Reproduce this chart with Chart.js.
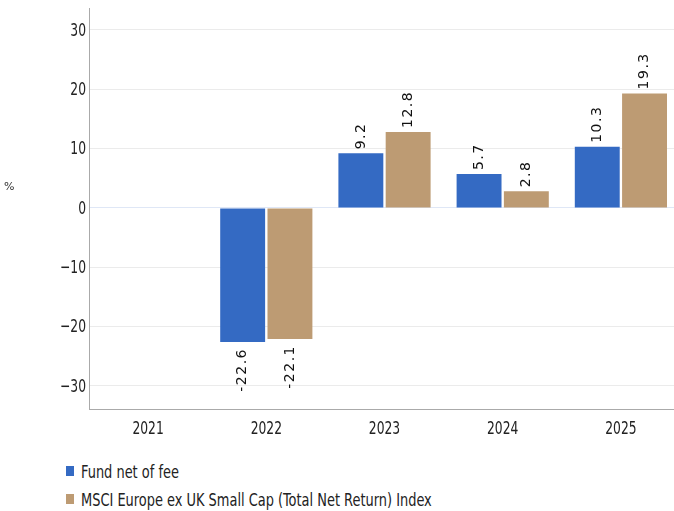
<!DOCTYPE html>
<html>
<head>
<meta charset="utf-8">
<script src="https://cdn.jsdelivr.net/npm/chart.js@4"></script>
<style>
  html, body { margin: 0; padding: 0; background: #fff; overflow: hidden; width: 674px; height: 511px; }
  #wrap { position: absolute; left: 0; top: 0; width: 690px; height: 445px; }
  #legend { position: absolute; left: 66px; top: 457px; font-family: "DejaVu Sans Condensed", "DejaVu Sans", sans-serif; font-stretch: condensed; font-size: 18px; color: #222; }
  #legend div { display: flex; align-items: center; height: 28px; white-space: nowrap; }
  #legend span.box { display: inline-block; width: 8px; height: 10px; margin-right: 7px; flex: none; }
  #legend span.txt { display: inline-block; transform: scaleX(0.8); transform-origin: left center; }
</style>
</head>
<body>
<div id="wrap"><canvas id="c"></canvas></div>
<div id="legend"></div>
<script>
const categories = ["2021", "2022", "2023", "2024", "2025"];
const fundValues = [null, -22.6, 9.2, 5.7, 10.3];
const indexValues = [null, -22.1, 12.8, 2.8, 19.3];
const seriesNames = ["Fund net of fee", "MSCI Europe ex UK Small Cap (Total Net Return) Index"];
const yTicks = [-30, -20, -10, 0, 10, 20, 30];
const yUnit = "%";

const colors = ["#346ac3", "#bd9b73"];
const tickFontCss = '18px "DejaVu Sans Condensed", "DejaVu Sans", sans-serif';
const fmtY = (v) => (v < 0 ? '\u2212' + Math.abs(v) : String(v));

const labelPlugin = {
  id: 'barLabels',
  afterDatasetsDraw(chart) {
    const ctx = chart.ctx;
    ctx.save();
    ctx.font = '14px "DejaVu Sans", sans-serif';
    ctx.fillStyle = '#111';
    try { ctx.letterSpacing = '1.5px'; } catch (e) {}
    chart.data.datasets.forEach((ds, di) => {
      const meta = chart.getDatasetMeta(di);
      meta.data.forEach((bar, i) => {
        const v = ds.data[i];
        if (v === null || v === undefined) return;
        const txt = v.toFixed(1);
        ctx.save();
        ctx.translate(bar.x, bar.y);
        ctx.rotate(-Math.PI / 2);
        ctx.textBaseline = 'middle';
        if (v >= 0) {
          ctx.textAlign = 'left';
          ctx.fillText(txt, 4, 0);
        } else {
          ctx.textAlign = 'right';
          ctx.fillText(txt, -6, 0);
        }
        ctx.restore();
      });
    });
    ctx.restore();
  },
  afterDraw(chart) {
    const ctx = chart.ctx;
    const xs = chart.scales.x, ys = chart.scales.y;
    ctx.save();
    ctx.font = tickFontCss;
    ctx.fillStyle = '#222';
    ctx.textBaseline = 'middle';
    ys.ticks.forEach((t, i) => {
      const y = ys.getPixelForValue(t.value);
      ctx.save();
      ctx.translate(ys.right - 3, y + 1);
      ctx.scale(0.76, 1);
      ctx.textAlign = 'right';
      ctx.fillText(fmtY(t.value), 0, 0);
      ctx.restore();
    });
    xs.ticks.forEach((t, i) => {
      const x = xs.getPixelForTick(i);
      ctx.save();
      ctx.translate(x, xs.top + 20);
      ctx.scale(0.76, 1);
      ctx.textAlign = 'center';
      ctx.fillText(chart.data.labels[i], 0, 0);
      ctx.restore();
    });
    ctx.font = '11px "DejaVu Sans", sans-serif';
    ctx.fillStyle = '#333';
    ctx.textAlign = 'left';
    ctx.fillText(yUnit, 4, 187);
    ctx.restore();
  }
};

const chart = new Chart(document.getElementById('c'), {
  type: 'bar',
  data: {
    labels: categories,
    datasets: [
      { label: seriesNames[0], data: fundValues, backgroundColor: colors[0] },
      { label: seriesNames[1], data: indexValues, backgroundColor: colors[1] }
    ]
  },
  options: {
    responsive: true,
    maintainAspectRatio: false,
    animation: false,
    layout: { padding: { top: 8, left: 0, right: 10, bottom: 0 } },
    categoryPercentage: 0.8,
    barPercentage: 0.95,
    plugins: {
      legend: { display: false },
      tooltip: { enabled: false }
    },
    scales: {
      x: {
        grid: { display: false },
        border: { display: true, color: '#aaaaaa', width: 1 },
        ticks: { color: 'rgba(0,0,0,0)', font: { size: 17 }, padding: 4, maxRotation: 0 },
        afterFit(scale) { scale.height = 36; scale.paddingLeft = 0; scale.paddingRight = 0; }
      },
      y: {
        min: -33.9,
        max: 33.7,
        afterBuildTicks(axis) { axis.ticks = yTicks.map(v => ({ value: v })); },
        grid: {
          color: (c) => (c.tick && c.tick.value === 0) ? '#dfe7f6' : '#ebebeb',
          lineWidth: 1,
          drawTicks: false
        },
        border: { display: true, color: '#aaaaaa', width: 1 },
        ticks: {
          color: 'rgba(0,0,0,0)', font: { size: 17 }, padding: 3,
          callback: fmtY
        },
        afterFit(scale) { scale.width = 89; scale.paddingTop = 0; scale.paddingBottom = 0; }
      }
    }
  },
  plugins: [labelPlugin]
});

const leg = document.getElementById('legend');
chart.data.datasets.forEach((ds) => {
  const row = document.createElement('div');
  const box = document.createElement('span');
  box.className = 'box';
  box.style.background = ds.backgroundColor;
  const txt = document.createElement('span');
  txt.className = 'txt';
  txt.textContent = ds.label;
  row.appendChild(box);
  row.appendChild(txt);
  leg.appendChild(row);
});
</script>
</body>
</html>
